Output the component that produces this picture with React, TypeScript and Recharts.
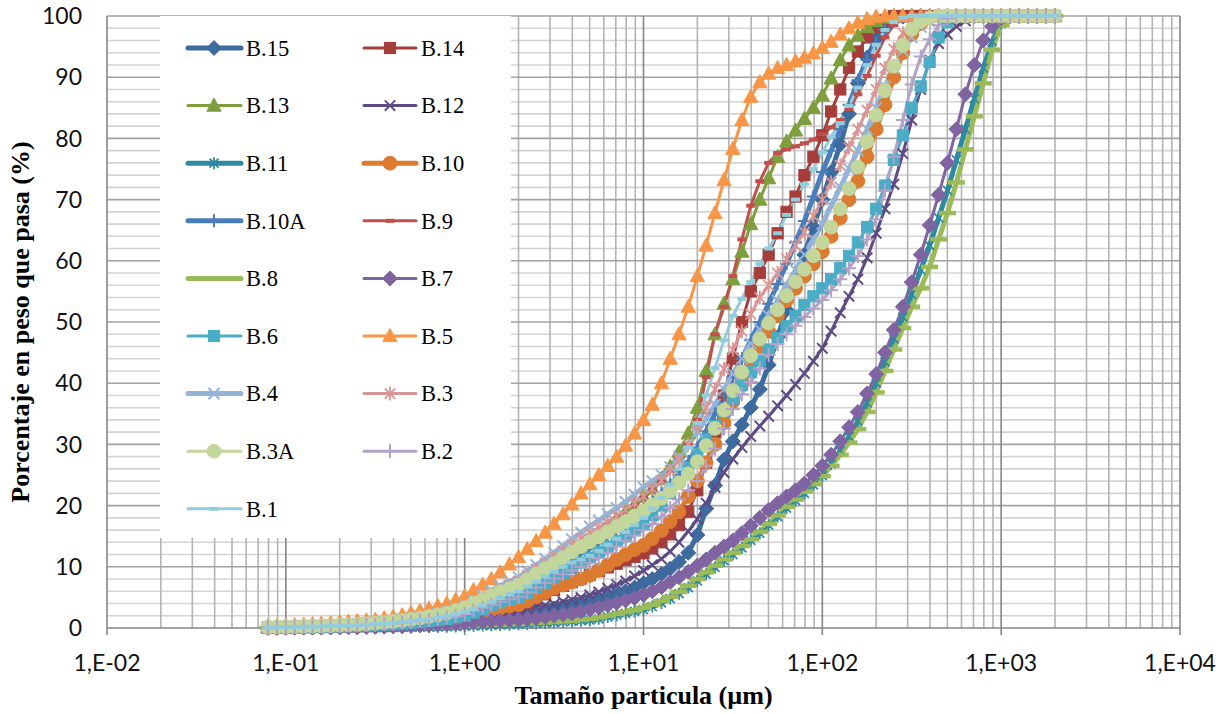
import React from 'react';
import { LineChart, Line, XAxis, YAxis, CartesianGrid } from 'recharts';

// Particle sizes (µm), laser-diffraction size classes
const SIZES = [
  0.0794, 0.0891, 0.1, 0.112, 0.126, 0.141, 0.158, 0.178, 0.2, 0.224,
  0.251, 0.282, 0.316, 0.355, 0.398, 0.447, 0.501, 0.562, 0.631, 0.708,
  0.794, 0.891, 1.0, 1.12, 1.26, 1.41, 1.58, 1.78, 2.0, 2.24,
  2.51, 2.82, 3.16, 3.55, 3.98, 4.47, 5.01, 5.62, 6.31, 7.08,
  7.94, 8.91, 10, 11.2, 12.6, 14.1, 15.8, 17.8, 20, 22.4,
  25.1, 28.2, 31.6, 35.5, 39.8, 44.7, 50.1, 56.2, 63.1, 70.8,
  79.4, 89.1, 100, 112, 126, 141, 158, 178, 200, 224,
  251, 282, 316, 355, 398, 447, 501, 562, 631, 708,
  794, 891, 1000, 1122, 1259, 1413, 1585, 1778, 1995,
];

const B15 = [
  0.04, 0.05, 0.06, 0.07, 0.08, 0.09, 0.1, 0.12, 0.14, 0.16,
  0.18, 0.21, 0.24, 0.28, 0.32, 0.37, 0.43, 0.5, 0.57, 0.65,
  0.74, 0.86, 1.0, 1.2, 1.35, 1.5, 1.7, 1.85, 2.0, 2.3,
  2.6, 2.9, 3.2, 3.5, 3.8, 4.1, 4.4, 4.8, 5.2, 5.6,
  6.0, 6.6, 7.3, 8.0, 8.8, 9.7, 10.8, 12.3, 15.2, 19.5,
  23.3, 27.5, 30.5, 33.2, 36.0, 39.0, 43.0, 47.5, 52.0, 56.5,
  61.0, 65.5, 70.0, 74.5, 79.0, 84.0, 89.0, 93.2, 96.3, 98.3,
  99.4, 99.9, 100, 100, 100, 100, 100, 100, 100, 100,
  100, 100, 100, 100, 100, 100, 100, 100, 100,
];
const B14 = [
  0.07, 0.09, 0.11, 0.13, 0.14, 0.16, 0.18, 0.22, 0.25, 0.29,
  0.32, 0.38, 0.43, 0.5, 0.58, 0.67, 0.77, 0.9, 1.03, 1.17,
  1.33, 1.55, 1.8, 2.1, 2.4, 2.7, 3.0, 3.3, 3.5, 4.1,
  4.8, 5.5, 6.2, 6.9, 7.5, 8.1, 8.7, 9.3, 9.9, 10.5,
  11.1, 11.6, 12.2, 13.0, 14.0, 15.3, 16.8, 19.0, 22.5, 27.0,
  32.0, 38.0, 44.0, 50.0, 55.0, 58.0, 61.0, 64.5, 68.0, 70.5,
  74.0, 77.0, 80.5, 84.4, 88.0, 91.5, 94.2, 96.5, 98.2, 99.3,
  100, 100, 100, 100, 100, 100, 100, 100, 100, 100,
  100, 100, 100, 100, 100, 100, 100, 100, 100,
];
const B13 = [
  0.12, 0.15, 0.17, 0.2, 0.23, 0.26, 0.29, 0.35, 0.41, 0.46,
  0.52, 0.61, 0.7, 0.81, 0.93, 1.07, 1.25, 1.45, 1.65, 1.89,
  2.15, 2.49, 2.9, 3.5, 4.2, 4.9, 5.5, 6.0, 6.5, 7.4,
  8.4, 9.4, 10.3, 11.3, 12.3, 13.3, 14.3, 15.4, 16.6, 17.8,
  19.0, 20.2, 21.5, 22.8, 24.4, 26.4, 28.8, 31.8, 36.0, 42.0,
  48.0, 53.0, 57.0, 61.5, 66.0, 70.0, 73.5, 77.0, 79.5, 81.3,
  83.2, 85.0, 87.0, 89.8, 92.8, 95.2, 96.8, 98.2, 99.2, 99.7,
  100, 100, 100, 100, 100, 100, 100, 100, 100, 100,
  100, 100, 100, 100, 100, 100, 100, 100, 100,
];
const B12 = [
  0.06, 0.08, 0.1, 0.11, 0.13, 0.14, 0.16, 0.19, 0.22, 0.26,
  0.29, 0.34, 0.38, 0.45, 0.51, 0.59, 0.69, 0.8, 0.91, 1.04,
  1.18, 1.38, 1.6, 1.8, 2.0, 2.3, 2.5, 2.8, 3.0, 3.2,
  3.5, 3.7, 3.9, 4.3, 4.6, 5.0, 5.4, 5.9, 6.5, 7.1,
  7.7, 8.5, 9.4, 10.3, 11.3, 12.5, 14.0, 15.8, 17.8, 20.4,
  23.0, 25.4, 27.6, 29.5, 31.3, 33.0, 34.6, 36.3, 38.0, 39.8,
  41.6, 43.6, 45.7, 48.5, 51.5, 54.2, 57.0, 60.5, 64.5, 68.5,
  72.5, 77.5, 83.0, 88.0, 92.8, 95.5, 97.0, 98.3, 99.2, 99.8,
  100, 100, 100, 100, 100, 100, 100, 100, 100,
];
const B11 = [
  0.01, 0.02, 0.02, 0.02, 0.02, 0.03, 0.03, 0.04, 0.04, 0.05,
  0.05, 0.06, 0.07, 0.08, 0.1, 0.11, 0.13, 0.15, 0.17, 0.2,
  0.22, 0.26, 0.3, 0.35, 0.4, 0.45, 0.5, 0.55, 0.6, 0.67,
  0.75, 0.83, 0.9, 1.0, 1.1, 1.2, 1.3, 1.5, 1.8, 2.1,
  2.4, 2.7, 3.0, 3.5, 4.1, 4.8, 5.6, 6.6, 7.7, 8.8,
  9.9, 11.0, 12.0, 13.1, 14.3, 15.5, 16.8, 18.2, 19.6, 20.8,
  22.0, 23.4, 24.9, 26.8, 29.0, 31.3, 33.8, 36.8, 40.0, 43.5,
  47.3, 50.8, 54.5, 58.5, 62.5, 67.0, 71.5, 76.5, 81.5, 86.5,
  91.5, 95.8, 98.8, 99.8, 100, 100, 100, 100, 100,
];
const B10 = [
  0.07, 0.09, 0.11, 0.13, 0.14, 0.16, 0.18, 0.22, 0.25, 0.29,
  0.32, 0.38, 0.43, 0.5, 0.58, 0.67, 0.77, 0.9, 1.03, 1.17,
  1.33, 1.55, 1.8, 2.2, 2.6, 3.0, 3.3, 3.6, 3.8, 4.4,
  5.1, 5.8, 6.5, 7.0, 7.5, 8.0, 8.6, 9.4, 10.3, 11.2,
  12.0, 12.8, 13.5, 14.6, 15.9, 17.4, 19.0, 21.5, 24.0, 27.0,
  30.0, 33.5, 37.0, 40.3, 43.5, 46.0, 48.5, 51.0, 53.5, 55.5,
  57.5, 59.5, 61.5, 64.0, 67.0, 70.0, 73.0, 77.0, 81.5, 85.5,
  90.0, 94.0, 97.0, 98.8, 99.7, 100, 100, 100, 100, 100,
  100, 100, 100, 100, 100, 100, 100, 100, 100,
];
const B10A = [
  0.1, 0.13, 0.16, 0.18, 0.21, 0.23, 0.26, 0.31, 0.36, 0.42,
  0.47, 0.55, 0.62, 0.73, 0.83, 0.96, 1.12, 1.3, 1.48, 1.69,
  1.92, 2.24, 2.6, 3.2, 3.9, 4.6, 5.2, 5.7, 6.2, 7.1,
  8.0, 8.9, 9.8, 10.6, 11.4, 12.2, 13.0, 13.9, 14.9, 15.9,
  17.0, 18.2, 19.5, 20.8, 22.1, 23.5, 25.0, 27.2, 29.5, 32.2,
  35.0, 38.0, 41.0, 44.0, 47.0, 50.0, 53.0, 56.2, 59.5, 63.0,
  66.5, 70.5, 74.5, 78.0, 81.5, 85.5, 89.5, 92.8, 95.5, 97.8,
  99.2, 99.9, 100, 100, 100, 100, 100, 100, 100, 100,
  100, 100, 100, 100, 100, 100, 100, 100, 100,
];
const B9 = [
  0.11, 0.14, 0.16, 0.19, 0.22, 0.24, 0.27, 0.32, 0.38, 0.43,
  0.49, 0.57, 0.65, 0.76, 0.86, 1.0, 1.16, 1.35, 1.54, 1.76,
  2.0, 2.32, 2.7, 3.3, 3.9, 4.6, 5.2, 5.7, 6.2, 7.1,
  8.0, 9.0, 9.9, 10.9, 11.9, 12.9, 13.9, 15.0, 16.2, 17.4,
  18.6, 19.9, 21.2, 22.5, 24.0, 25.6, 27.5, 30.0, 34.0, 41.0,
  48.0, 52.5, 57.5, 63.5, 69.0, 73.0, 76.0, 77.6, 78.2, 78.7,
  79.2, 79.8, 80.7, 81.8, 83.0, 84.8, 87.2, 90.2, 93.5, 96.5,
  98.5, 99.5, 100, 100, 100, 100, 100, 100, 100, 100,
  100, 100, 100, 100, 100, 100, 100, 100, 100,
];
const B8 = [
  0.02, 0.02, 0.02, 0.03, 0.03, 0.04, 0.04, 0.05, 0.06, 0.06,
  0.07, 0.08, 0.1, 0.11, 0.13, 0.15, 0.17, 0.2, 0.23, 0.26,
  0.3, 0.34, 0.4, 0.45, 0.5, 0.55, 0.6, 0.65, 0.7, 0.77,
  0.85, 0.92, 1.0, 1.1, 1.2, 1.35, 1.5, 1.75, 2.0, 2.3,
  2.6, 2.9, 3.3, 3.8, 4.4, 5.1, 5.9, 6.9, 8.0, 9.1,
  10.2, 11.2, 12.3, 13.4, 14.5, 15.7, 17.0, 18.4, 19.8, 21.0,
  22.3, 23.5, 24.8, 26.5, 28.3, 30.3, 32.5, 35.3, 38.5, 42.0,
  45.5, 49.0, 52.5, 55.5, 59.0, 63.5, 67.8, 72.8, 78.2, 83.6,
  89.0, 94.5, 98.5, 99.7, 100, 100, 100, 100, 100,
];
const B7 = [
  0.03, 0.04, 0.05, 0.06, 0.06, 0.07, 0.08, 0.1, 0.11, 0.13,
  0.14, 0.17, 0.19, 0.22, 0.26, 0.3, 0.34, 0.4, 0.46, 0.52,
  0.59, 0.69, 0.8, 0.9, 1.0, 1.1, 1.2, 1.25, 1.3, 1.45,
  1.6, 1.8, 2.0, 2.2, 2.4, 2.7, 3.0, 3.3, 3.7, 4.1,
  4.5, 4.9, 5.4, 6.0, 6.7, 7.5, 8.3, 9.2, 10.2, 11.2,
  12.3, 13.3, 14.3, 15.5, 16.7, 18.0, 19.3, 20.4, 21.5, 22.5,
  23.6, 25.0, 26.5, 28.3, 30.5, 32.8, 35.3, 38.3, 41.5, 45.0,
  48.7, 52.5, 56.5, 61.0, 65.8, 70.8, 76.0, 81.5, 87.2, 92.0,
  96.0, 98.3, 99.6, 100, 100, 100, 100, 100, 100,
];
const B6 = [
  0.08, 0.1, 0.12, 0.14, 0.16, 0.18, 0.2, 0.24, 0.28, 0.32,
  0.36, 0.42, 0.48, 0.56, 0.64, 0.74, 0.86, 1.0, 1.14, 1.3,
  1.48, 1.72, 2.0, 2.5, 3.1, 3.7, 4.2, 4.6, 5.0, 5.8,
  6.6, 7.4, 8.2, 9.0, 9.8, 10.7, 11.5, 12.4, 13.3, 14.2,
  15.0, 16.0, 17.0, 18.5, 20.0, 22.0, 24.0, 26.2, 28.5, 30.8,
  33.0, 35.3, 37.5, 39.7, 41.8, 43.7, 45.5, 47.4, 49.3, 51.0,
  52.8, 54.2, 55.5, 57.0, 58.8, 60.8, 63.0, 65.5, 68.5, 72.3,
  76.5, 80.5, 85.0, 88.5, 92.5, 96.5, 99.0, 99.9, 100, 100,
  100, 100, 100, 100, 100, 100, 100, 100, 100,
];
const B5 = [
  0.3, 0.35, 0.4, 0.5, 0.55, 0.65, 0.75, 0.85, 0.95, 1.05,
  1.15, 1.25, 1.35, 1.6, 1.85, 2.1, 2.45, 2.8, 3.2, 3.6,
  4.0, 4.6, 5.2, 6.2, 7.1, 8.0, 9.1, 10.4, 11.6, 12.9,
  14.2, 15.6, 17.0, 18.6, 20.2, 22.0, 23.5, 25.0, 26.5, 28.0,
  29.8, 31.8, 34.0, 36.5, 40.0, 44.0, 48.0, 52.5, 57.5, 62.5,
  67.8, 73.2, 78.3, 83.0, 86.8, 89.2, 90.6, 91.5, 92.0, 92.6,
  93.2, 93.9, 94.8, 95.8, 97.0, 98.0, 98.9, 99.5, 99.9, 100,
  100, 100, 100, 100, 100, 100, 100, 100, 100, 100,
  100, 100, 100, 100, 100, 100, 100, 100, 100,
];
const B4 = [
  0.15, 0.19, 0.23, 0.27, 0.3, 0.34, 0.38, 0.46, 0.53, 0.61,
  0.68, 0.8, 0.91, 1.06, 1.22, 1.41, 1.63, 1.9, 2.17, 2.47,
  2.81, 3.27, 3.8, 4.5, 5.3, 6.1, 6.9, 7.6, 8.3, 9.3,
  10.3, 11.3, 12.3, 13.4, 14.5, 15.6, 16.6, 17.6, 18.6, 19.6,
  20.6, 21.8, 23.0, 24.0, 25.0, 26.3, 28.0, 30.0, 32.0, 34.2,
  36.5, 39.0, 41.5, 44.0, 46.5, 48.8, 51.0, 53.5, 56.0, 58.5,
  61.0, 63.5, 66.0, 69.0, 72.0, 75.0, 78.0, 81.5, 85.0, 88.5,
  91.5, 94.3, 96.5, 98.2, 99.2, 99.8, 100, 100, 100, 100,
  100, 100, 100, 100, 100, 100, 100, 100, 100,
];
const B3 = [
  0.14, 0.17, 0.2, 0.24, 0.27, 0.31, 0.34, 0.41, 0.48, 0.54,
  0.61, 0.71, 0.82, 0.95, 1.09, 1.26, 1.46, 1.7, 1.94, 2.21,
  2.52, 2.92, 3.4, 4.1, 4.8, 5.6, 6.3, 7.0, 7.6, 8.6,
  9.6, 10.6, 11.6, 12.6, 13.6, 14.6, 15.5, 16.4, 17.3, 18.3,
  19.3, 20.4, 21.5, 22.8, 24.1, 25.7, 27.5, 30.0, 33.0, 36.0,
  39.0, 42.3, 45.5, 48.5, 51.3, 54.0, 56.0, 58.0, 60.3, 62.5,
  64.7, 67.3, 70.0, 72.8, 75.6, 78.5, 81.5, 84.6, 88.0, 91.5,
  94.6, 97.2, 98.8, 99.6, 100, 100, 100, 100, 100, 100,
  100, 100, 100, 100, 100, 100, 100, 100, 100,
];
const B3A = [
  0.13, 0.17, 0.2, 0.23, 0.26, 0.3, 0.33, 0.4, 0.46, 0.53,
  0.59, 0.69, 0.79, 0.92, 1.06, 1.22, 1.42, 1.65, 1.88, 2.15,
  2.44, 2.84, 3.3, 4.0, 4.6, 5.3, 5.9, 6.4, 7.0, 7.9,
  8.8, 9.7, 10.5, 11.5, 12.4, 13.3, 14.1, 14.9, 15.7, 16.6,
  17.4, 18.3, 19.1, 20.1, 21.2, 22.4, 23.7, 25.2, 27.2, 29.8,
  32.6, 35.6, 38.8, 41.8, 44.5, 47.2, 49.8, 52.0, 54.3, 56.6,
  58.6, 60.8, 63.0, 65.5, 68.5, 71.8, 75.3, 79.5, 83.8, 87.8,
  91.8, 95.2, 97.8, 99.1, 99.7, 100, 100, 100, 100, 100,
  100, 100, 100, 100, 100, 100, 100, 100, 100,
];
const B2 = [
  0.09, 0.12, 0.14, 0.16, 0.18, 0.21, 0.23, 0.28, 0.32, 0.37,
  0.41, 0.48, 0.55, 0.64, 0.74, 0.85, 0.99, 1.15, 1.31, 1.5,
  1.7, 1.98, 2.3, 2.8, 3.3, 3.8, 4.3, 4.7, 5.1, 5.8,
  6.6, 7.4, 8.1, 8.8, 9.4, 10.0, 10.6, 11.4, 12.3, 13.3,
  14.2, 15.1, 16.0, 17.0, 18.2, 19.6, 21.0, 22.5, 24.0, 26.5,
  29.3, 32.6, 35.8, 38.2, 40.2, 42.4, 44.6, 46.4, 48.0, 49.4,
  50.8, 52.2, 53.6, 55.2, 57.0, 58.8, 60.8, 63.5, 66.8, 71.5,
  77.0, 83.0, 88.8, 93.4, 96.2, 98.5, 99.6, 100, 100, 100,
  100, 100, 100, 100, 100, 100, 100, 100, 100,
];
const B1 = [
  0.1, 0.13, 0.16, 0.18, 0.21, 0.23, 0.26, 0.31, 0.36, 0.42,
  0.47, 0.55, 0.62, 0.73, 0.83, 0.96, 1.12, 1.3, 1.48, 1.69,
  1.92, 2.24, 2.6, 3.1, 3.7, 4.3, 4.9, 5.5, 6.0, 6.8,
  7.6, 8.4, 9.2, 10.0, 10.7, 11.2, 11.8, 12.6, 13.6, 14.6,
  15.7, 16.8, 18.0, 19.5, 21.3, 23.4, 26.0, 29.5, 33.5, 38.0,
  42.5, 47.0, 51.0, 53.8, 56.5, 59.5, 62.0, 64.5, 67.5, 70.0,
  72.5, 75.0, 77.7, 80.3, 82.5, 85.3, 88.3, 92.0, 95.3, 97.7,
  99.0, 99.7, 100, 100, 100, 100, 100, 100, 100, 100,
  100, 100, 100, 100, 100, 100, 100, 100, 100,
];

const X_TICKS = [0.01, 0.1, 1, 10, 100, 1000, 10000];
const Y_TICKS = [0, 10, 20, 30, 40, 50, 60, 70, 80, 90, 100];
const MINOR_X = [
  0.02, 0.03, 0.04, 0.05, 0.06, 0.07, 0.08, 0.09,
  0.2, 0.3, 0.4, 0.5, 0.6, 0.7, 0.8, 0.9,
  2, 3, 4, 5, 6, 7, 8, 9,
  20, 30, 40, 50, 60, 70, 80, 90,
  200, 300, 400, 500, 600, 700, 800, 900,
  2000, 3000, 4000, 5000, 6000, 7000, 8000, 9000,
];
const MAJOR_X = [0.1, 1, 10, 100, 1000, 10000];
const MINOR_Y = [
  2, 4, 6, 8, 12, 14, 16, 18, 22, 24, 26, 28, 32, 34, 36, 38, 42, 44, 46, 48,
  52, 54, 56, 58, 62, 64, 66, 68, 72, 74, 76, 78, 82, 84, 86, 88, 92, 94, 96, 98,
];
const MAJOR_Y = [10, 20, 30, 40, 50, 60, 70, 80, 90, 100];

type Shape = 'diamond' | 'square' | 'triangle' | 'x' | 'star' | 'circle' | 'plus' | 'dash' | 'longdash';

interface SeriesDef {
  key: string;
  name: string;
  values: number[];
  color: string;
  width: number;
  shape: Shape;
  size: number;
}

const THICK = 5;
const THIN = 3;

const SERIES: SeriesDef[] = [
  { key: 'B15', name: 'B.15', values: B15, color: '#3D6B9F', width: THICK, shape: 'diamond', size: 15 },
  { key: 'B14', name: 'B.14', values: B14, color: '#A53E3B', width: THIN, shape: 'square', size: 14 },
  { key: 'B13', name: 'B.13', values: B13, color: '#7F9E3D', width: THIN, shape: 'triangle', size: 15 },
  { key: 'B12', name: 'B.12', values: B12, color: '#5E4A85', width: THIN, shape: 'x', size: 13 },
  { key: 'B11', name: 'B.11', values: B11, color: '#2E8AA0', width: THICK, shape: 'star', size: 12 },
  { key: 'B10', name: 'B.10', values: B10, color: '#DC7A30', width: THICK, shape: 'circle', size: 15 },
  { key: 'B10A', name: 'B.10A', values: B10A, color: '#4A7EBB', width: THICK, shape: 'plus', size: 13 },
  { key: 'B9', name: 'B.9', values: B9, color: '#C0504D', width: THIN, shape: 'dash', size: 9 },
  { key: 'B8', name: 'B.8', values: B8, color: '#9BBB59', width: THICK, shape: 'longdash', size: 17 },
  { key: 'B7', name: 'B.7', values: B7, color: '#8064A2', width: THIN, shape: 'diamond', size: 15 },
  { key: 'B6', name: 'B.6', values: B6, color: '#4BACC6', width: THIN, shape: 'square', size: 14 },
  { key: 'B5', name: 'B.5', values: B5, color: '#F79646', width: THIN, shape: 'triangle', size: 15 },
  { key: 'B4', name: 'B.4', values: B4, color: '#95B3D7', width: THICK, shape: 'x', size: 14 },
  { key: 'B3', name: 'B.3', values: B3, color: '#D99694', width: THIN, shape: 'star', size: 14 },
  { key: 'B3A', name: 'B.3A', values: B3A, color: '#C3D69B', width: THIN, shape: 'circle', size: 15 },
  { key: 'B2', name: 'B.2', values: B2, color: '#B3A2C7', width: THIN, shape: 'plus', size: 14 },
  { key: 'B1', name: 'B.1', values: B1, color: '#93CDDD', width: THIN, shape: 'dash', size: 9 },
];

const DATA = SIZES.map((size, i) => {
  const row: Record<string, number> = { size };
  SERIES.forEach((s) => {
    row[s.key] = s.values[i];
  });
  return row;
});

function MarkerShape(props: { cx?: number; cy?: number; shape: Shape; size: number; color: string }) {
  const { cx, cy, shape, size, color } = props;
  if (cx == null || cy == null || isNaN(cx) || isNaN(cy)) return <g />;
  const h = size / 2;
  switch (shape) {
    case 'diamond':
      return <polygon points={`${cx},${cy - h} ${cx + h},${cy} ${cx},${cy + h} ${cx - h},${cy}`} fill={color} stroke={color} strokeWidth={1} />;
    case 'square': {
      const q = h * 0.8;
      return <rect x={cx - q} y={cy - q} width={2 * q} height={2 * q} fill={color} stroke={color} strokeWidth={1} />;
    }
    case 'triangle':
      return <polygon points={`${cx},${cy - h} ${cx + h * 0.95},${cy + h * 0.75} ${cx - h * 0.95},${cy + h * 0.75}`} fill={color} stroke={color} strokeWidth={1} />;
    case 'circle':
      return <circle cx={cx} cy={cy} r={h * 0.92} fill={color} stroke={color} strokeWidth={1} />;
    case 'x': {
      const q = h * 0.8;
      return <path d={`M${cx - q},${cy - q}L${cx + q},${cy + q}M${cx - q},${cy + q}L${cx + q},${cy - q}`} stroke={color} strokeWidth={2} fill="none" />;
    }
    case 'star': {
      const q = h * 0.75;
      return (
        <path
          d={`M${cx - q},${cy - q}L${cx + q},${cy + q}M${cx - q},${cy + q}L${cx + q},${cy - q}M${cx},${cy - h}L${cx},${cy + h}`}
          stroke={color}
          strokeWidth={1.8}
          fill="none"
        />
      );
    }
    case 'plus':
      return <path d={`M${cx - h},${cy}L${cx + h},${cy}M${cx},${cy - h}L${cx},${cy + h}`} stroke={color} strokeWidth={2} fill="none" />;
    case 'dash':
      return <rect x={cx - h} y={cy - 2} width={size} height={4} fill={color} />;
    case 'longdash':
      return <rect x={cx - h} y={cy - 2.25} width={size} height={4.5} fill={color} />;
    default:
      return <g />;
  }
}

function scalePoint(axis: any, v: number): number {
  if (!axis) return NaN;
  const s = axis.scale;
  if (typeof s === 'function') return s(v);
  if (s && typeof s.map === 'function') return s.map(v);
  return NaN;
}

const fmtX = (v: number) => {
  const e = Math.round(Math.log10(v));
  return '1,E' + (e < 0 ? '-' : '+') + String(Math.abs(e)).padStart(2, '0');
};

const TICK_FONT = { fontFamily: 'Lato, "Open Sans", sans-serif', fontSize: 23, fill: '#111' };
const SERIF = '"Liberation Serif", "Times New Roman", serif';

function LegendBox() {
  const rowY = (r: number) => 48 + r * 57.6;
  return (
    <g>
      <rect x={160} y={16} width={351} height={522} fill="#ffffff" />
      {SERIES.map((s, i) => {
        const col = i % 2;
        const row = Math.floor(i / 2);
        const y = rowY(row);
        const x1 = col === 0 ? 188 : 364;
        const x2 = col === 0 ? 241 : 416;
        const mx = col === 0 ? 214 : 390;
        const tx = col === 0 ? 246 : 421;
        return (
          <g key={s.key}>
            <line x1={x1} y1={y} x2={x2} y2={y} stroke={s.color} strokeWidth={s.width} strokeLinecap="round" />
            <MarkerShape cx={mx} cy={y} shape={s.shape} size={s.size} color={s.color} />
            <text x={tx} y={y} dy="0.35em" fontFamily={SERIF} fontSize={22.5} fill="#000">
              {s.name}
            </text>
          </g>
        );
      })}
    </g>
  );
}

export default function App() {
  return (
    <div style={{ position: 'absolute', left: 0, top: 0, width: 1228, height: 714, background: '#ffffff' }}>
      <LineChart width={1228} height={714} data={DATA} margin={{ top: 16, right: 48, bottom: 0, left: 0 }}>
        <CartesianGrid
          vertical={false}
          stroke="#D4D4D4"
          strokeWidth={1.6}
          horizontalCoordinatesGenerator={({ yAxis }: any) => MINOR_Y.map((v) => scalePoint(yAxis, v))}
        />
        <CartesianGrid
          horizontal={false}
          stroke="#B4B4B4"
          strokeWidth={1.6}
          verticalCoordinatesGenerator={({ xAxis }: any) => MINOR_X.map((v) => scalePoint(xAxis, v))}
        />
        <CartesianGrid
          vertical={false}
          stroke="#A2A2A2"
          strokeWidth={1.6}
          horizontalCoordinatesGenerator={({ yAxis }: any) => MAJOR_Y.map((v) => scalePoint(yAxis, v))}
        />
        <CartesianGrid
          horizontal={false}
          stroke="#868686"
          strokeWidth={1.6}
          verticalCoordinatesGenerator={({ xAxis }: any) => MAJOR_X.map((v) => scalePoint(xAxis, v))}
        />
        <XAxis
          dataKey="size"
          type="number"
          scale="log"
          domain={[0.01, 10000]}
          ticks={X_TICKS}
          interval={0}
          tickFormatter={fmtX}
          height={86}
          tickSize={7}
          tickMargin={20}
          tick={TICK_FONT}
          axisLine={{ stroke: '#868686', strokeWidth: 1.6 }}
          tickLine={{ stroke: '#868686', strokeWidth: 1.6 }}
        />
        <YAxis
          type="number"
          domain={[0, 100]}
          ticks={Y_TICKS}
          interval={0}
          width={107}
          tickSize={0}
          tickMargin={25}
          tick={TICK_FONT}
          tickLine={false}
          axisLine={{ stroke: '#868686', strokeWidth: 1.6 }}
        />
        {SERIES.map((s) => (
          <Line
            key={s.key}
            dataKey={s.key}
            name={s.name}
            type="linear"
            stroke={s.color}
            strokeWidth={s.width}
            isAnimationActive={false}
            activeDot={false}
            dot={(p: any) => (
              <MarkerShape key={`${s.key}-${p.index}`} cx={p.cx} cy={p.cy} shape={s.shape} size={s.size} color={s.color} />
            )}
          />
        ))}
      </LineChart>
      <svg width={1228} height={714} style={{ position: 'absolute', left: 0, top: 0, pointerEvents: 'none' }}>
        <LegendBox />
        <text x={643.5} y={695} dy="0.35em" textAnchor="middle" fontFamily={SERIF} fontWeight="bold" fontSize={26} fill="#000">
          Tamaño particula (µm)
        </text>
        <text
          x={0}
          y={0}
          transform="translate(20,322) rotate(-90)"
          dy="0.35em"
          textAnchor="middle"
          fontFamily={SERIF}
          fontWeight="bold"
          fontSize={26}
          fill="#000"
        >
          Porcentaje en peso que pasa (%)
        </text>
      </svg>
    </div>
  );
}
